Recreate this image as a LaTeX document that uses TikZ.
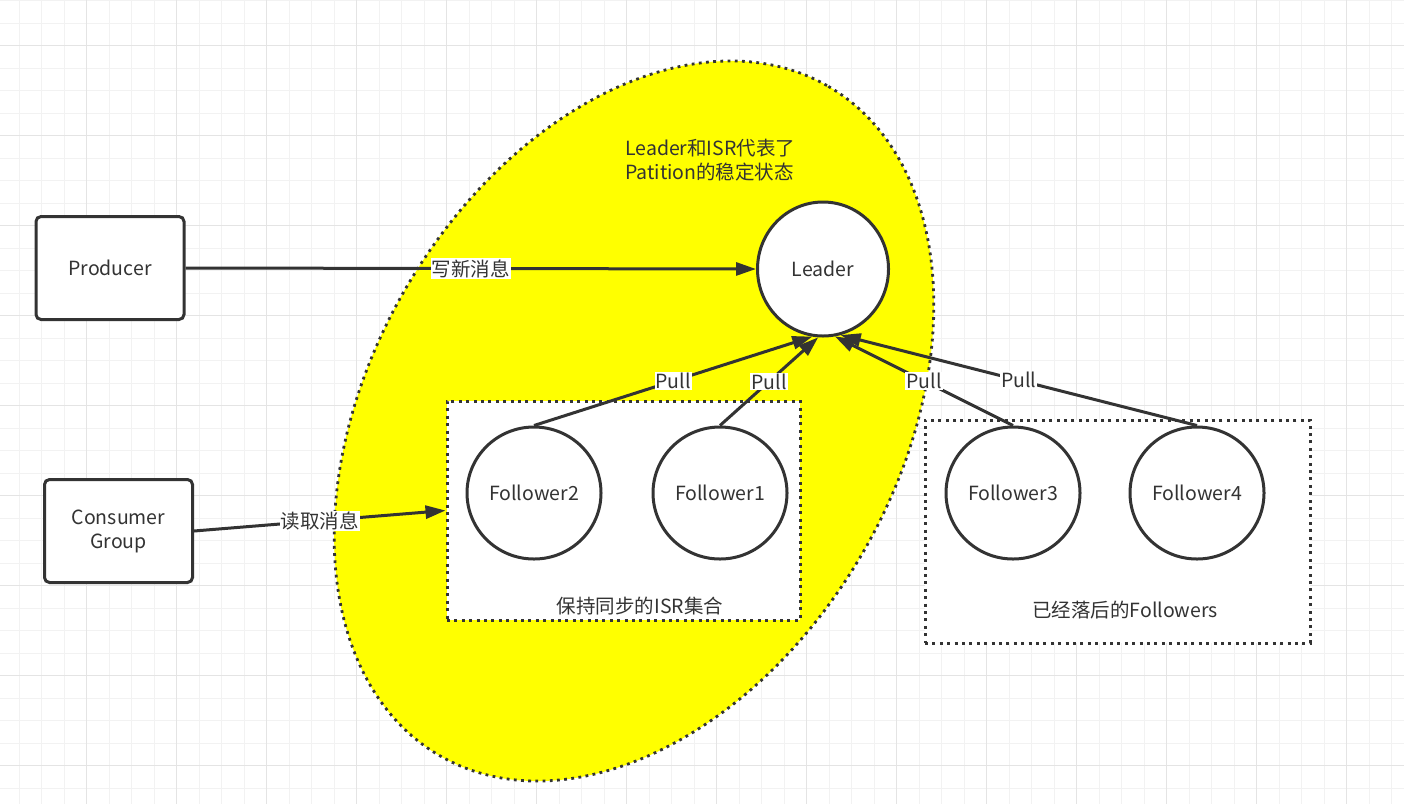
\documentclass[tikz,border=0pt]{standalone}
\usepackage{fontspec}
\setmainfont{Noto Sans CJK SC}
\usetikzlibrary{shapes.geometric,arrows.meta}
\definecolor{ink}{HTML}{333333}
\definecolor{stable}{HTML}{FFFF00}
\definecolor{gridminor}{HTML}{F2F2F2}
\definecolor{gridmajor}{HTML}{E4E4E4}
\begin{document}
\begin{tikzpicture}[x=1pt,y=-1pt,
  every node/.style={font=\fontsize{19.5}{24}\selectfont, text=ink},
  box/.style={draw=ink, line width=3pt, rounded corners=5pt, fill=white, minimum width=148pt, minimum height=103pt, align=center},
  replica/.style={ellipse, draw=ink, line width=3pt, fill=white, minimum width=134pt, minimum height=132pt, inner sep=0pt},
  group/.style={draw=ink, line width=3pt, dash pattern=on 3pt off 4.4pt, fill=white, inner sep=0pt},
  msg/.style={draw=ink, line width=3pt, -{Triangle[length=20pt,width=13pt]}},
  tag/.style={fill=white, inner sep=1pt},
]
\useasboundingbox (0,0) rectangle (1404,804);
\fill[white] (0,0) rectangle (1404,804);
% grid
\foreach \k in {1,...,63} \draw[gridminor, line width=1pt] ({-3.3+22.5*\k},0) -- ++(0,804);
\foreach \k in {0,...,36} \draw[gridminor, line width=1pt] (0,{0.7+22.5*\k}) -- ++(1404,0);
\foreach \k in {0,...,14} \draw[gridmajor, line width=1.3pt] ({86.7+90*\k},0) -- ++(0,804);
\foreach \k in {0,...,8} \draw[gridmajor, line width=1.3pt] (0,{45.7+90*\k}) -- ++(1404,0);
% stable partition area
\draw[fill=stable, draw=ink, line width=2.8pt, dash pattern=on 2.8pt off 4.4pt, rotate around={59.85:(634,421)}] (634,421) ellipse [x radius=387, y radius=264];
\node[align=left, anchor=west, inner sep=0pt] (note) at (625,160) {Leader和ISR代表了\\Patition的稳定状态};
\node[group, minimum width=353pt, minimum height=219pt] (isr) at (623.5,510.5) {};
\node[group, minimum width=385pt, minimum height=223pt] (late) at (1117.5,531.5) {};
\node (isrlabel) at (640,606) {保持同步的ISR集合};
\node (latelabel) at (1125,610) {已经落后的Followers};
\node[box] (producer) at (110,268) {Producer};
\node[box] (consumer) at (118.5,531) {Consumer\\Group};
\node[replica, minimum width=131pt, minimum height=134pt] (leader) at (823,269) {Leader};
\node[replica] (follower2) at (534,493) {Follower2};
\node[replica] (follower1) at (720,493) {Follower1};
\node[replica] (follower3) at (1013,493) {Follower3};
\node[replica] (follower4) at (1197,493) {Follower4};
\draw[msg] (producer.east) -- node[tag] {写新消息} (leader.west);
\draw[msg] (consumer.east) -- node[tag] {读取消息} (isr.west);
\draw[msg] (follower2.north) -- node[tag] {Pull} (leader.261);
\draw[msg] (follower1.north) -- node[tag] {Pull} (leader.266);
\draw[msg] (follower3.north) -- node[tag] {Pull} (leader.280);
\draw[msg] (follower4.north) -- node[tag] {Pull} (leader.285);
\end{tikzpicture}
\end{document}
